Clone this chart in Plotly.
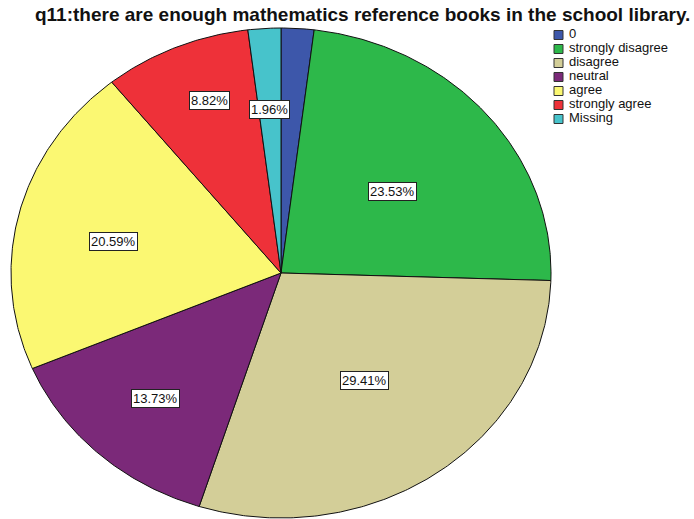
import numpy as np
import plotly.graph_objects as go

# ---- data ----
categories = ["0", "strongly disagree", "disagree", "neutral", "agree", "strongly agree", "Missing"]
counts = [2, 24, 30, 14, 21, 9, 2]
show_label = [False, True, True, True, True, True, True]
colors = ["#3D57AA", "#2DB84A", "#D3CE98", "#7B2979", "#FBF872", "#EE3139", "#47C3CB"]
title_text = "q11:there are enough mathematics reference books in the school library."

# label placement (fraction of radius, angular nudge in degrees), layout only
label_r = [0.6, 0.53, 0.535, 0.69, 0.635, 0.75, 0.667]
label_da = [0, 1.8, 0.2, -0.2, -2.6, 2.4, 0]

total = sum(counts)
pcts = [c / total * 100 for c in counts]

W, H = 694, 519
CX, CY, RX, RY = 281, 273, 270, 245  # pie centre/radii in pixels (layout)


def px2x(px):
    return (px - CX) / RX


def py2y(py):
    return (CY - py) / RY


fig = go.Figure()

# ---- elliptical pie drawn on stretched axes ----
cum = 0.0
annotations = []
for i, (cat, c, col) in enumerate(zip(categories, counts, colors)):
    a0 = cum / total * 2 * np.pi
    cum += c
    a1 = cum / total * 2 * np.pi
    n = max(int(np.degrees(a1 - a0)) * 2, 4)
    th = np.linspace(a0, a1, n)
    xs = np.concatenate([[0], np.sin(th), [0]])
    ys = np.concatenate([[0], np.cos(th), [0]])
    fig.add_trace(go.Scatter(
        x=xs, y=ys, fill="toself", fillcolor=col, mode="lines",
        line=dict(color="#111111", width=1), name=cat, showlegend=False,
        hoverinfo="name"))
    if show_label[i]:
        am = (a0 + a1) / 2 + np.radians(label_da[i])
        r = label_r[i]
        annotations.append(dict(
            x=r * np.sin(am), y=r * np.cos(am), xref="x", yref="y",
            text=f"{pcts[i]:.2f}%", showarrow=False,
            font=dict(family="Liberation Sans, Arial", size=13, color="#111"),
            bgcolor="white", bordercolor="#222", borderwidth=1, borderpad=1))

# ---- custom legend ----
leg_x0, leg_y0, leg_dy, leg_tx = 558.5, 35, 14, 569
leg_ys = [py2y(leg_y0 + i * leg_dy) for i in range(len(categories))]
fig.add_trace(go.Scatter(
    x=[px2x(leg_x0)] * len(categories), y=leg_ys, mode="markers",
    marker=dict(symbol="square", size=9, color=colors, line=dict(color="#333", width=1)),
    showlegend=False, hoverinfo="skip", cliponaxis=False))
fig.add_trace(go.Scatter(
    x=[px2x(leg_tx)] * len(categories), y=leg_ys, mode="text",
    text=categories, textposition="middle right",
    textfont=dict(family="Liberation Sans, Arial", size=13, color="#111"),
    showlegend=False, hoverinfo="skip", cliponaxis=False))

annotations.append(dict(
    x=362 / W, y=1 - 14 / H, xref="paper", yref="paper", text=f"<b>{title_text}</b>",
    showarrow=False, xanchor="center", yanchor="middle",
    font=dict(family="Liberation Sans, Arial", size=19, color="#111")))

fig.update_layout(
    width=W, height=H, margin=dict(l=0, r=0, t=0, b=0),
    paper_bgcolor="white", plot_bgcolor="white",
    xaxis=dict(domain=[0, 1], range=[px2x(0), px2x(W)], visible=False, fixedrange=True),
    yaxis=dict(domain=[0, 1], range=[py2y(H), py2y(0)], visible=False, fixedrange=True),
    annotations=annotations, showlegend=False,
)

fig.write_html("out.html")
